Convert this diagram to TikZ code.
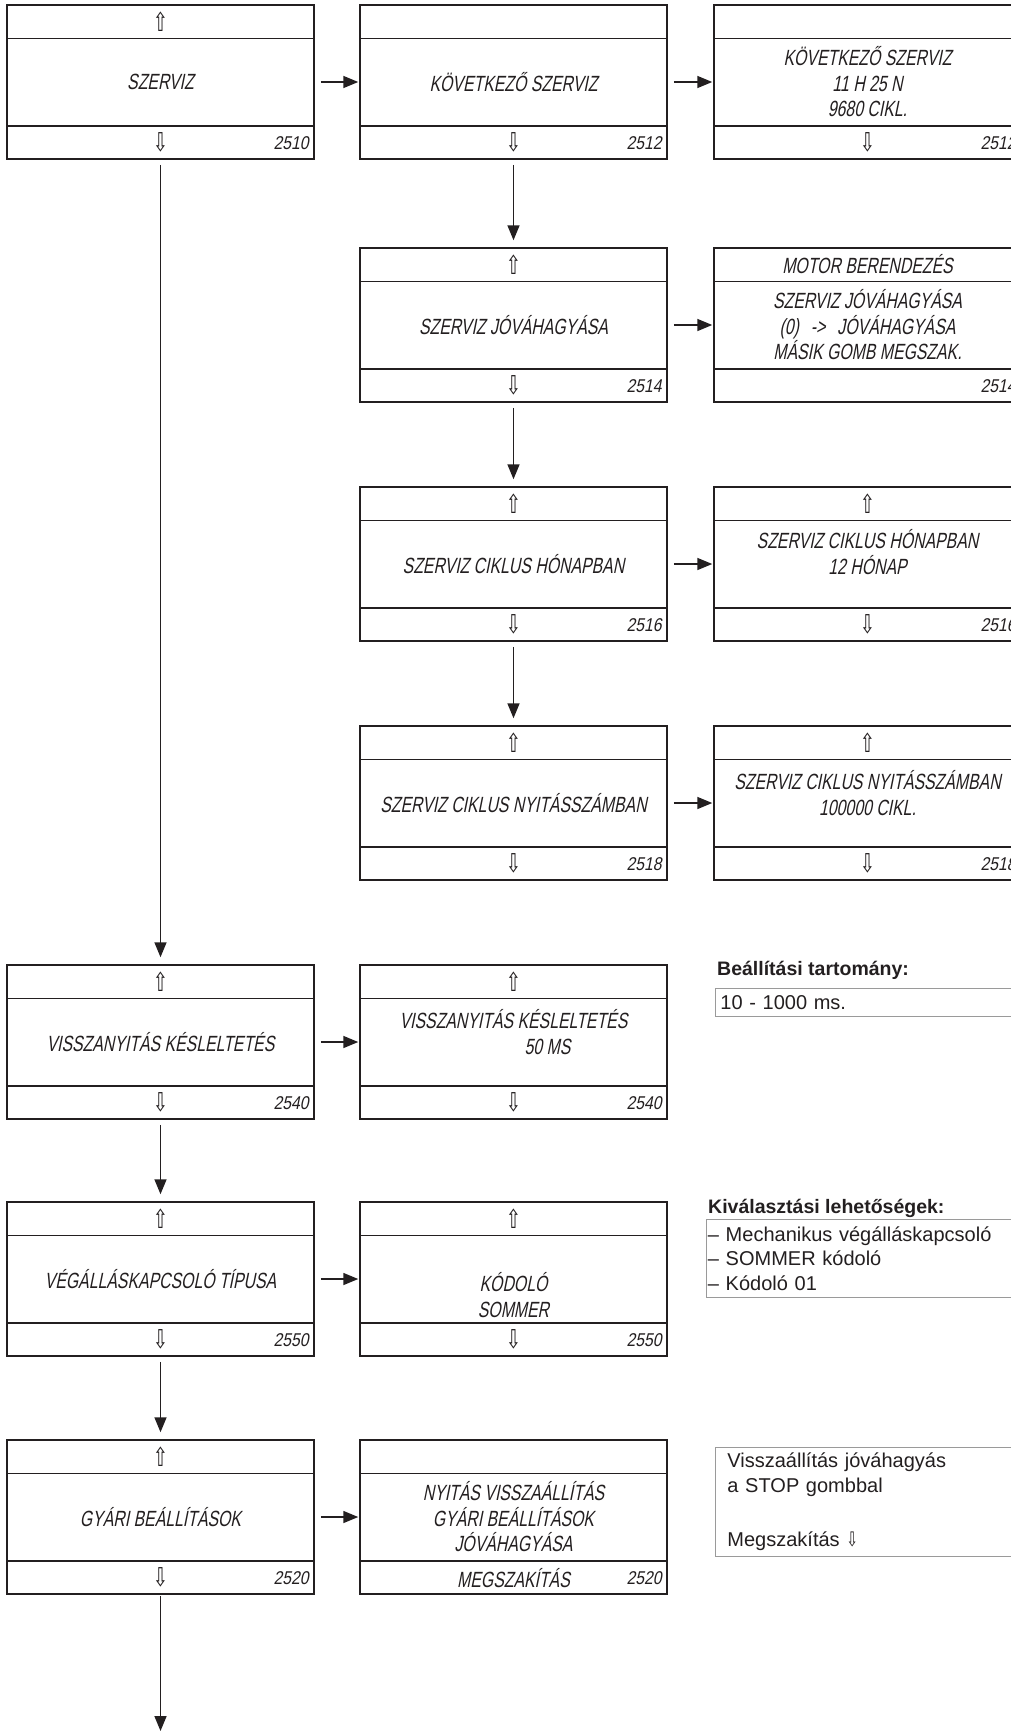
\documentclass[tikz,border=0pt]{standalone}
\usepackage{fontspec}
\setmainfont{Liberation Sans}
\newfontfamily\lcdfont[FakeStretch=0.72,FakeSlant=0.2]{Liberation Sans}
\newfontfamily\numfont[FakeStretch=0.85,FakeSlant=0.2]{Liberation Sans}
\newfontfamily\symfont[FakeStretch=0.7]{DejaVu Sans}
\usetikzlibrary{arrows.meta,positioning}
\definecolor{ink}{HTML}{231F20}
\definecolor{rim}{HTML}{9A9A9A}

\tikzset{
  screen/.style={draw=ink, line width=1.5pt, minimum width=307pt, minimum height=154pt, inner sep=0pt},
  lcd/.style={text=ink, font=\lcdfont\fontsize{22}{25.5}\selectfont, align=center, inner sep=0pt},
  code/.style={text=ink, font=\numfont\fontsize{18.5}{20}\selectfont, inner sep=0pt},
  flow/.style={ink, line width=1.6pt, -{Triangle[length=15pt,width=12pt]}},
  notehead/.style={text=ink, font=\bfseries\fontsize{19.5}{23}\selectfont, inner sep=0pt, anchor=base west},
  notebox/.style={draw=rim, line width=0.9pt, text=ink, font=\fontsize{20}{24.5}\selectfont,
                  align=left, anchor=north west, text width=320pt},
}
\newcommand\keyup{{\symfont\fontsize{26}{20}\selectfont ⇧}}
\newcommand\keydn{{\symfont\fontsize{26}{20}\selectfont ⇩}}
% one display: name, centre, top line, middle, bottom line, code
\newcommand\screen[7][]{%
  \node[screen] (#2) at #3 {};
  \draw[ink, line width=1.5pt] ([yshift=-34pt]#2.north west) -- ([yshift=-34pt]#2.north east)
    ([yshift=34pt]#2.south west) -- ([yshift=34pt]#2.south east);
  \node[lcd] (#2-up) at ([yshift=-17pt]#2.north) {#4};
  \node[lcd, #1] (#2-txt) at (#2) {#5};
  \node[lcd] (#2-dn) at ([yshift=17pt]#2.south) {#6};
  \node[code, anchor=east] (#2-nr) at ([xshift=-6pt,yshift=17pt]#2.south east) {#7};
}

\begin{document}
\begin{tikzpicture}[x=1pt,y=-1pt]
  \useasboundingbox (0,0) rectangle (1011,1732);
  \clip (0,0) rectangle (1011,1732);
  \fill[white] (0,0) rectangle (1011,1732);

  % service branch
  \screen{a1}{(160.5,82)}{\keyup}{SZERVIZ}{\keydn}{2510}
  \screen{b1}{(513.5,82)}{}{KÖVETKEZŐ SZERVIZ}{\keydn}{2512}
  \screen{c1}{(867.5,82)}{}{KÖVETKEZŐ SZERVIZ\\11 H 25 N\\9680 CIKL.}{\keydn}{2512}
  \screen{b2}{(513.5,325)}{\keyup}{SZERVIZ JÓVÁHAGYÁSA}{\keydn}{2514}
  \screen{c2}{(867.5,325)}{MOTOR BERENDEZÉS}{SZERVIZ JÓVÁHAGYÁSA\\(0)\hspace{12pt}->\hspace{12pt}JÓVÁHAGYÁSA\\MÁSIK GOMB MEGSZAK.}{}{2514}
  \screen{b3}{(513.5,564)}{\keyup}{SZERVIZ CIKLUS HÓNAPBAN}{\keydn}{2516}
  \screen[yshift=12pt]{c3}{(867.5,564)}{\keyup}{SZERVIZ CIKLUS HÓNAPBAN\\12 HÓNAP}{\keydn}{2516}
  \screen{b4}{(513.5,803)}{\keyup}{SZERVIZ CIKLUS NYITÁSSZÁMBAN}{\keydn}{2518}
  \screen[yshift=10pt]{c4}{(867.5,803)}{\keyup}{SZERVIZ CIKLUS NYITÁSSZÁMBAN\\100000 CIKL.}{\keydn}{2518}

  % main column
  \screen{a5}{(160.5,1042)}{\keyup}{VISSZANYITÁS KÉSLELTETÉS}{\keydn}{2540}
  \screen[yshift=10pt]{b5}{(513.5,1042)}{\keyup}{VISSZANYITÁS KÉSLELTETÉS\\\hspace*{68pt}50 MS}{\keydn}{2540}
  \screen{a6}{(160.5,1279)}{\keyup}{VÉGÁLLÁSKAPCSOLÓ TÍPUSA}{\keydn}{2550}
  \screen[yshift=-16pt]{b6}{(513.5,1279)}{\keyup}{KÓDOLÓ\\SOMMER}{\keydn}{2550}
  \screen{a7}{(160.5,1517)}{\keyup}{GYÁRI BEÁLLÍTÁSOK}{\keydn}{2520}
  \screen{b7}{(513.5,1517)}{}{NYITÁS VISSZAÁLLÍTÁS\\GYÁRI BEÁLLÍTÁSOK\\JÓVÁHAGYÁSA}{MEGSZAKÍTÁS}{2520}
  \coordinate (exit) at (160.5,1731);

  % arrows
  \foreach \l/\r in {a1/b1,b1/c1,b2/c2,b3/c3,b4/c4,a5/b5,a6/b6,a7/b7}
    \draw[flow, shorten <=6pt, shorten >=1pt] (\l.east) -- (\r.west);
  \foreach \u/\d in {b1/b2,b2/b3,b3/b4,a1/a5,a5/a6,a6/a7}
    \draw[flow, shorten <=5pt, shorten >=7pt] (\u.south) -- (\d.north);
  \draw[flow, shorten <=1pt] (a7.south) -- (exit);

  % side notes
  \node[notehead] (rangehead) at (717,975) {Beállítási tartomány:};
  \node[notebox, minimum height=28pt, inner xsep=5pt] (range) at (715,988) {10 - 1000 ms.};
  \node[notehead] (choicehead) at (708,1213) {Kiválasztási lehetőségek:};
  \node[notebox, minimum height=78pt, inner xsep=1.5pt] (choices) at (706,1219)
    {– Mechanikus végálláskapcsoló\\– SOMMER kódoló\\– Kódoló 01};
  \node[notebox, minimum height=109pt, inner xsep=12pt] (reset) at (715,1447)
    {Visszaállítás jóváhagyás\\a STOP gombbal\\[30pt]Megszakítás {\symfont ⇩}};
\end{tikzpicture}
\end{document}
